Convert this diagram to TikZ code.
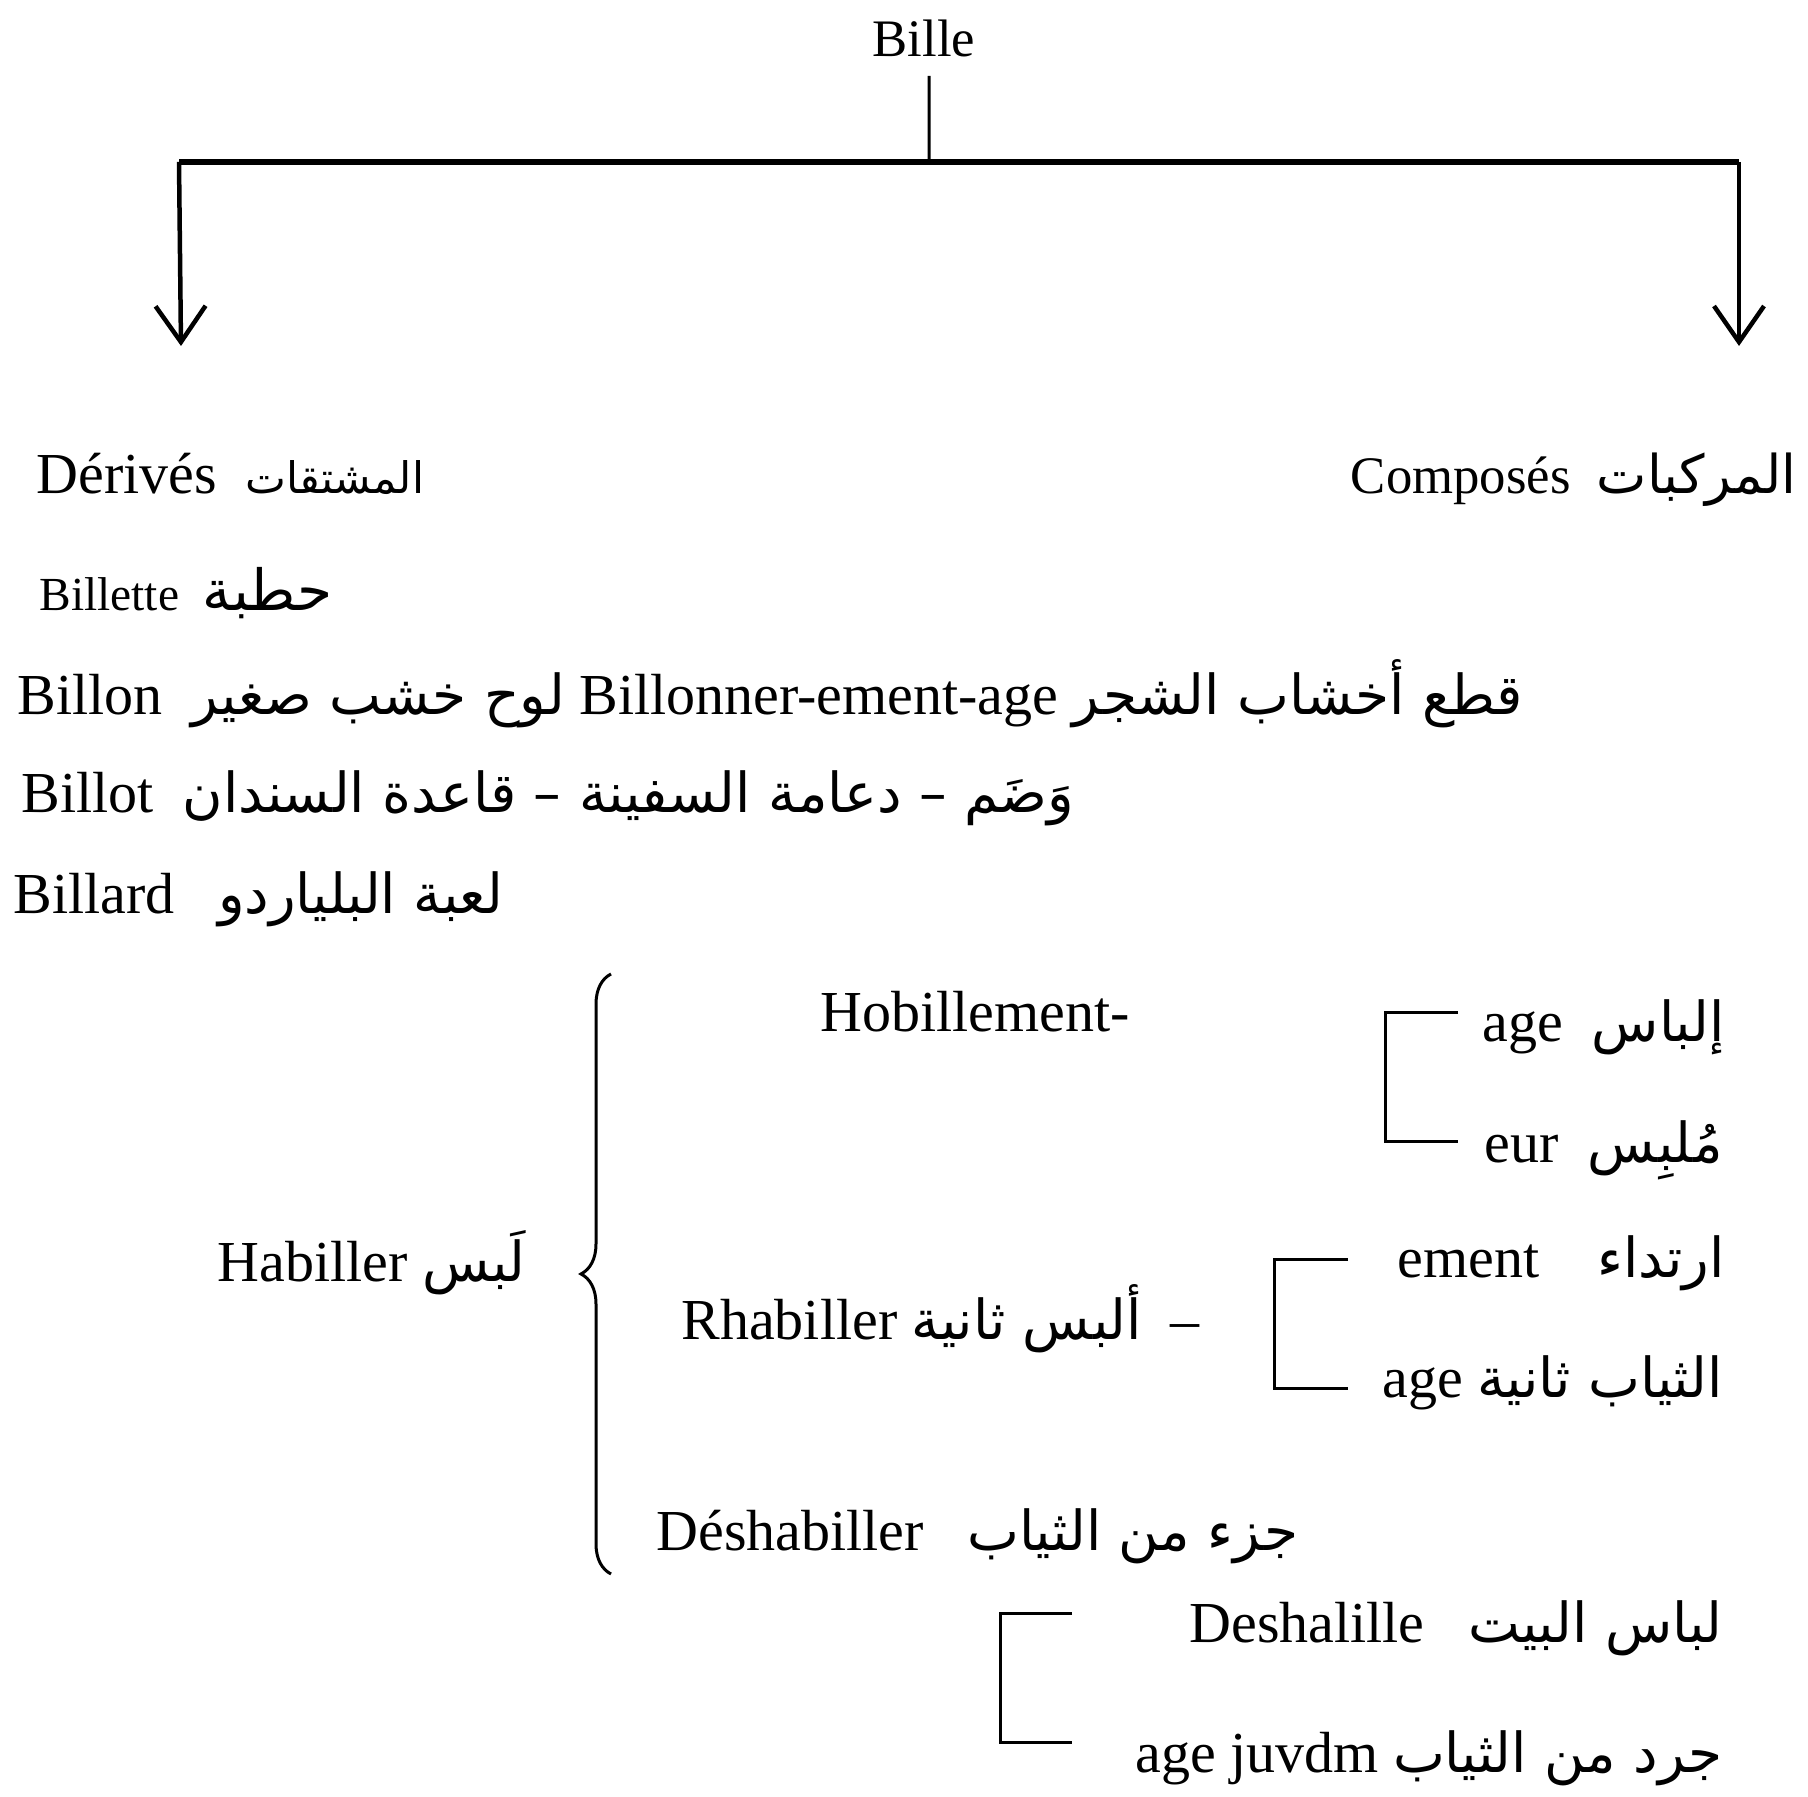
\documentclass[tikz,border=0pt]{standalone}
\usepackage{fontspec}
\setmainfont{Liberation Serif}
\newfontfamily\arabicfont[Script=Arabic,Scale=0.95]{DejaVu Sans}
\TeXXeTstate=1
\usetikzlibrary{positioning,arrows.meta,calc,decorations.pathreplacing}
\newcommand{\artext}[1]{{\arabicfont\beginR #1\endR}}
\newcommand{\fsz}[1]{\fontsize{#1}{1.2\dimexpr #1pt\relax}\selectfont}
\tikzset{
    every picture/.style={
        line width=0.3mm
    },
    % Style for the word entries
    word label/.style={
        font=\fsz{16.5},
        inner sep=0pt
    },
    % Thick bar under the root word
    tree bar/.style={
        line width=0.6mm
    },
    % Arrows down to the two columns
    branch arrow/.style={
        line width=0.45mm,
        -{Straight Barb[length=3.6mm,width=5mm]}
    },
    % Square brackets grouping the suffixes
    bracket line/.style={
        line width=0.3mm
    }
}

\begin{document}
\begin{tikzpicture}[x=1mm,y=1mm]

% Set the canvas size
\path[use as bounding box] (0,0) rectangle (180.8,179.7);

% Root word and its split
\node[word label, font=\fsz{15}, anchor=base] (bille) at (92.4,174.0) {Bille};
\coordinate (split) at (92.9,163.5);
\coordinate (barL) at (17.9,163.5);
\coordinate (barR) at (173.9,163.5);
\coordinate (tipL) at (18.1,145.1);
\coordinate (tipR) at (173.9,145.1);

\draw ([shift={(0.5,-1.7)}]bille.south) -- (split);
\draw[tree bar] (barL) -- (barR);
\draw[branch arrow] (barL) -- (tipL);
\draw[branch arrow] (barR) -- (tipR);

% Column headings
\node[word label, anchor=base west] (derives) at (3.5,130.3) {Dérivés \ {\fsz{13}\artext{المشتقات}}};
\node[word label, font=\fsz{15}, anchor=base east] (composes) at (179.8,130.3) {Composés \ {\fsz{16}\artext{المركبات}}};

% Derived words
\node[word label, font=\fsz{13.5}, anchor=base west] (billette) at (3.8,118.6) {Billette\ \ {\fsz{17}\artext{حطبة}}};
\node[word label, anchor=base west] (billon) at (1.6,108.2) {Billon\ \ \artext{لوح خشب صغير} Billonner-ement-age \artext{قطع أخشاب الشجر}};
\node[word label, anchor=base west] (billot) at (2.0,98.4) {Billot\ \ \artext{وَضَم – دعامة السفينة – قاعدة السندان}};
\node[word label, anchor=base west] (billard) at (1.2,88.3) {Billard\ \ \ \artext{لعبة البلياردو}};

% Habiller and its family
\node[word label, anchor=base west] (habiller) at (21.6,51.5) {Habiller \artext{لَبس}};
\draw[decorate, decoration={brace, amplitude=3mm}] (61.1,22.3) -- (61.1,82.3);

\node[word label, anchor=base west] (hobil) at (81.9,76.5) {Hobillement-};
\node[word label, anchor=base west] (rhabil) at (68.0,45.7) {Rhabiller \artext{ألبس ثانية} \ –};
\node[word label, anchor=base west] (deshab) at (65.5,24.6) {Déshabiller\ \ \ \artext{جزء من الثياب}};

% Suffix groups
\node[word label, anchor=base east] (agea) at (172.6,75.5) {age\ \ \artext{إلباس}};
\node[word label, anchor=base east] (eur) at (172.4,63.4) {eur\ \ \artext{مُلبِس}};
\draw[bracket line] (145.8,78.4) -- (138.5,78.4) -- (138.5,65.5) -- (145.8,65.5);

\node[word label, anchor=base east] (ement) at (172.6,51.9) {ement\ \ \ \ \artext{ارتداء}};
\node[word label, anchor=base east] (ageb) at (172.4,39.9) {age \artext{الثياب ثانية}};
\draw[bracket line] (134.8,53.7) -- (127.4,53.7) -- (127.4,40.8) -- (134.8,40.8);

\node[word label, anchor=base east] (deshal) at (172.4,15.4) {Deshalille\ \ \ \artext{لباس البيت}};
\node[word label, anchor=base east] (juvdm) at (172.4,2.4) {age juvdm \artext{جرد من الثياب}};
\draw[bracket line] (107.2,18.3) -- (100.0,18.3) -- (100.0,5.4) -- (107.2,5.4);

\end{tikzpicture}
\end{document}
